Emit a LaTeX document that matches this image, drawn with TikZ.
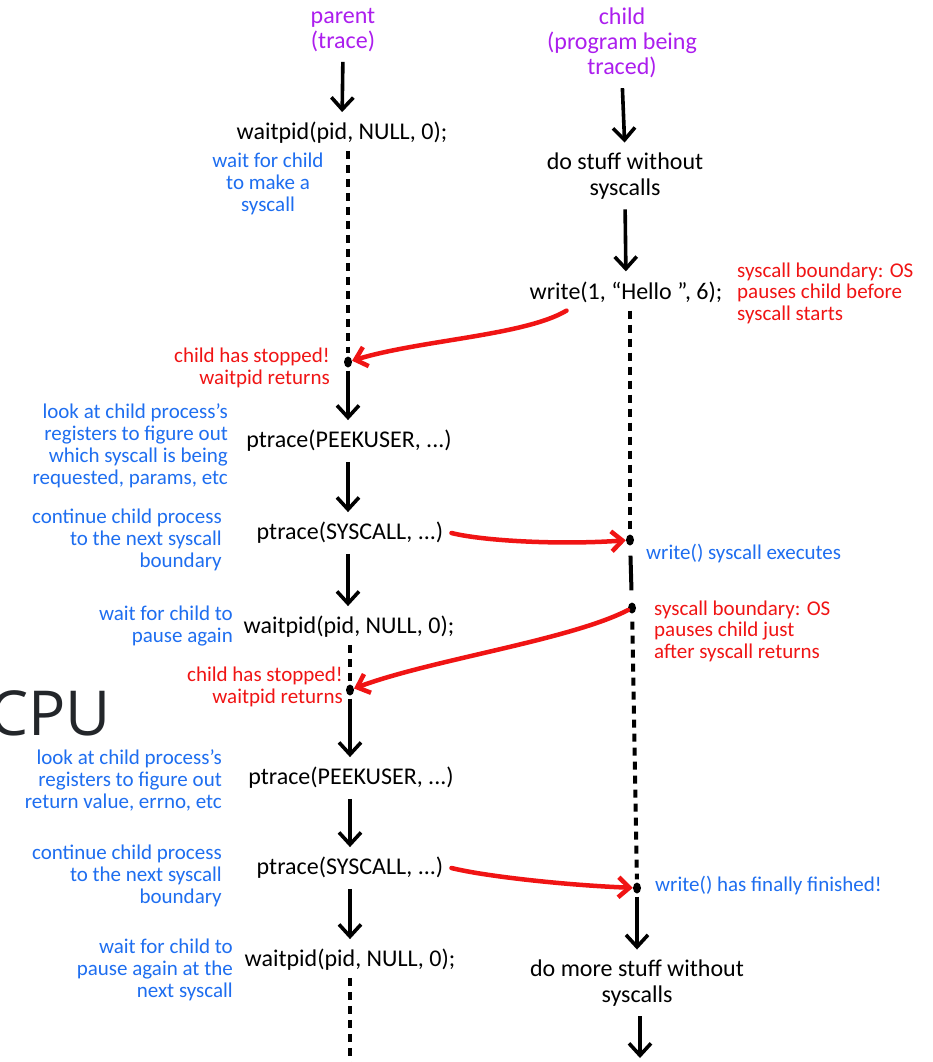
\documentclass[tikz,border=0pt]{standalone}
\usepackage{fontspec}
\setmainfont{Carlito}
\newfontfamily\cpufont{Open Sans}
\usetikzlibrary{arrows.meta,calc,shapes.geometric}
\definecolor{titlepurple}{RGB}{172,30,238}
\definecolor{noteblue}{RGB}{30,110,240}
\definecolor{alertred}{RGB}{240,20,20}
\definecolor{cpugray}{RGB}{35,38,42}

\begin{document}
\begin{tikzpicture}[x=1pt,y=-1pt,
  code/.style={font=\fontsize{24}{26}\selectfont, align=center, inner sep=0pt},
  heading/.style={font=\fontsize{24}{25}\selectfont, text=titlepurple, align=center, inner sep=0pt},
  bluenote/.style={font=\fontsize{21}{22}\selectfont, text=noteblue, align=right, inner sep=0pt, anchor=east},
  rednote/.style={font=\fontsize{21}{21.5}\selectfont, text=alertred, align=left, inner sep=0pt, anchor=west},
  redright/.style={rednote, align=right, anchor=east},
  stop/.style={ellipse, fill=black, inner sep=0pt, minimum width=8pt, minimum height=11pt},
  flow/.style={draw=black, line width=3.6pt, -{Straight Barb[length=12pt,width=22pt]}, shorten <=10pt, shorten >=10pt},
  waiting/.style={draw=black, line width=4pt, dash pattern=on 8pt off 6pt},
  running/.style={draw=black, line width=4pt},
  signal/.style={draw=alertred, line width=4.5pt, line cap=round, -{Straight Barb[length=11pt,width=20pt]}}
]
\useasboundingbox (0,0) rectangle (932,1062);
\fill[white] (0,0) rectangle (932,1062);

% column headings
\node[heading] (tp) at (343,30) {parent\\(trace)};
\node[heading] (tc) at (622,43) {child\\(program being\\traced)};

% parent side
\node[code] (w1) at (342,133) {waitpid(pid, NULL, 0);};
\node[bluenote, align=center, anchor=center] (b1) at (268,184) {wait for child\\to make a\\syscall};
\node[stop] (d1) at (348,362) {};
\node[redright] (r1) at (330,368) {child has stopped!\\waitpid returns};
\node[code] (pk1) at (349,441) {ptrace(PEEKUSER, ...)};
\node[bluenote] (b2) at (228,446) {look at child process's\\registers to figure out\\which syscall is being\\requested, params, etc};
\node[code] (ps1) at (350,533) {ptrace(SYSCALL, ...)};
\node[bluenote] (b3) at (222,540) {continue child process\\to the next syscall\\boundary};
\node[code] (w2) at (349,627) {waitpid(pid, NULL, 0);};
\node[bluenote] (b4) at (233,626) {wait for child to\\pause again};
\node[stop] (d2) at (350,690) {};
\node[redright] (r2) at (343,687) {child has stopped!\\waitpid returns};
\node[code] (pk2) at (351,778) {ptrace(PEEKUSER, ...)};
\node[bluenote] (b5) at (222,780) {look at child process's\\registers to figure out\\return value, errno, etc};
\node[code] (ps2) at (350,868) {ptrace(SYSCALL, ...)};
\node[bluenote] (b6) at (222,876) {continue child process\\to the next syscall\\boundary};
\node[code] (w3) at (350,960) {waitpid(pid, NULL, 0);};
\node[bluenote] (b7) at (233,970) {wait for child to\\pause again at the\\next syscall};
\coordinate (lend) at (350,1062);

% child side
\node[code] (s1) at (625,176) {do stuff without\\syscalls};
\node[code] (wr) at (626,292) {write(1, “Hello ”, 6);};
\node[rednote] (r3) at (737,293) {syscall boundary: OS\\pauses child before\\syscall starts};
\node[stop] (d3) at (630,540) {};
\node[bluenote, anchor=west] (b8) at (646,554) {write() syscall executes};
\node[stop] (d4) at (632,608) {};
\node[rednote] (r4) at (654,631) {syscall boundary: OS\\pauses child just\\after syscall returns};
\node[stop] (d5) at (637,888) {};
\node[bluenote, anchor=west] (b9) at (655,886) {write() has finally finished!};
\node[code] (s2) at (637,983) {do more stuff without\\syscalls};
\coordinate (rend) at (640,1062);

% big label at the left edge
\node[font=\cpufont\fontsize{62}{62}\selectfont, text=cpugray, anchor=base east, inner sep=0pt] (cpu) at (111,735) {CPU};

% parent timeline
\draw[flow] (tp.south) -- (w1.north);
\draw[waiting, shorten <=7pt, shorten >=3pt] (w1.south -| d1) -- (d1);
\draw[flow, shorten <=3pt] (d1) -- (pk1.north -| d1);
\draw[flow] (pk1.south -| d1) -- (ps1.north -| d1);
\draw[flow] (ps1.south -| d1) -- (w2.north -| d1);
\draw[waiting, shorten <=7pt, shorten >=3pt] (w2.south -| d2) -- (d2);
\draw[flow, shorten <=3pt] (d2) -- (pk2.north -| d2);
\draw[flow] (pk2.south -| d2) -- (ps2.north -| d2);
\draw[flow] (ps2.south -| d2) -- (w3.north -| d2);
\draw[waiting, shorten <=7pt] (w3.south -| lend) -- (lend);

% child timeline
\draw[flow] (tc.south) -- (s1.north);
\draw[flow] (s1.south) -- (wr.north);
\draw[waiting, shorten <=8pt, shorten >=3pt] (wr.south -| d3) -- (d3);
\draw[running, shorten <=10pt, shorten >=12pt] (d3) -- (d4);
\draw[waiting, shorten <=8pt, shorten >=3pt] (d4) -- (d5);
\draw[flow, shorten <=3pt] (d5) -- (s2.north -| d5);
\draw[flow, shorten >=4pt] (s2.south -| rend) -- (rend);

% stop / resume signals between the two processes
\draw[signal] ([shift={(37,8)}]wr.south west) .. controls +(-42,25) and +(58,-27) .. ([shift={(14,5)}]d1);
\draw[signal] ([xshift=8pt]ps1.east) .. controls +(32,8) and +(-62,-7) .. ([shift={(-8,12)}]d3);
\draw[signal] ([shift={(-11,6)}]d4) .. controls +(-51,26) and +(65,-27) .. ([shift={(15,-3)}]d2);
\draw[signal] ([xshift=8pt]ps2.east) .. controls +(32,8) and +(-62,-7) .. ([shift={(-12,4)}]d5);
\end{tikzpicture}
\end{document}
